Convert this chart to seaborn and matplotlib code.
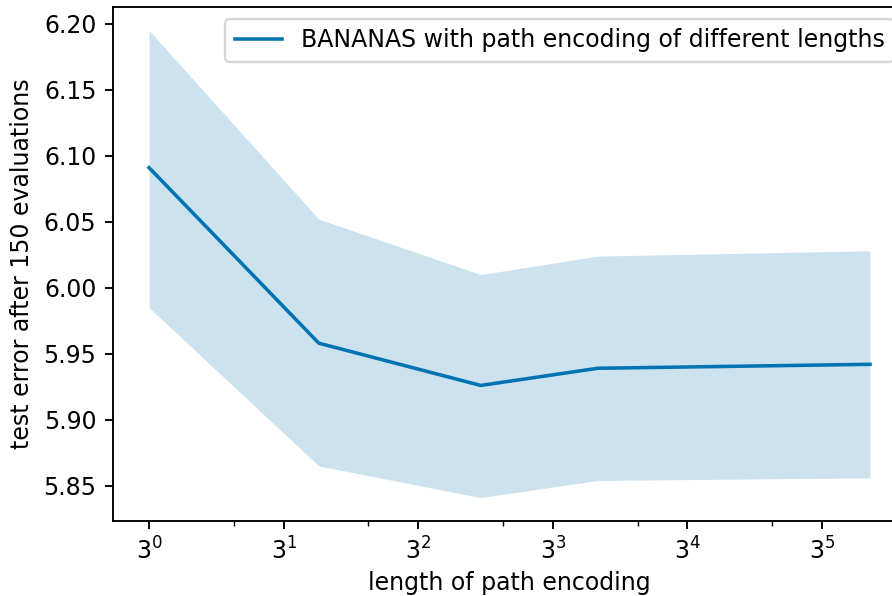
import numpy as np
import pandas as pd
import matplotlib
matplotlib.use("Agg")
import matplotlib.pyplot as plt
import seaborn as sns

# Path-encoding lengths and the resulting test error after 150 evaluations
lengths = [1, 4, 15, 39, 360]
mean_error = [6.091, 5.958, 5.926, 5.939, 5.942]
upper_error = [6.195, 6.052, 6.010, 6.024, 6.028]
lower_error = [5.985, 5.865, 5.841, 5.854, 5.856]

series_label = "BANANAS with path encoding of different lengths"
color = "#0173b2"

df = pd.DataFrame({"length": lengths, "error": mean_error})

dpi = 170
fig = plt.figure(figsize=(892 / dpi, 596 / dpi), dpi=dpi)
ax = fig.add_axes([113 / 892, 75 / 596, 793 / 892, 514 / 596])

ax.fill_between(lengths, lower_error, upper_error, color=color, alpha=0.2,
                linewidth=0)
sns.lineplot(data=df, x="length", y="error", ax=ax, color=color,
             linewidth=1.5, label=series_label)

ax.set_xscale("log", base=3)
ax.set_xlabel("length of path encoding", labelpad=2.8)
ax.set_ylabel("test error after 150 evaluations")
ax.legend(loc="upper right")

fig.savefig("out.png", dpi=dpi)
